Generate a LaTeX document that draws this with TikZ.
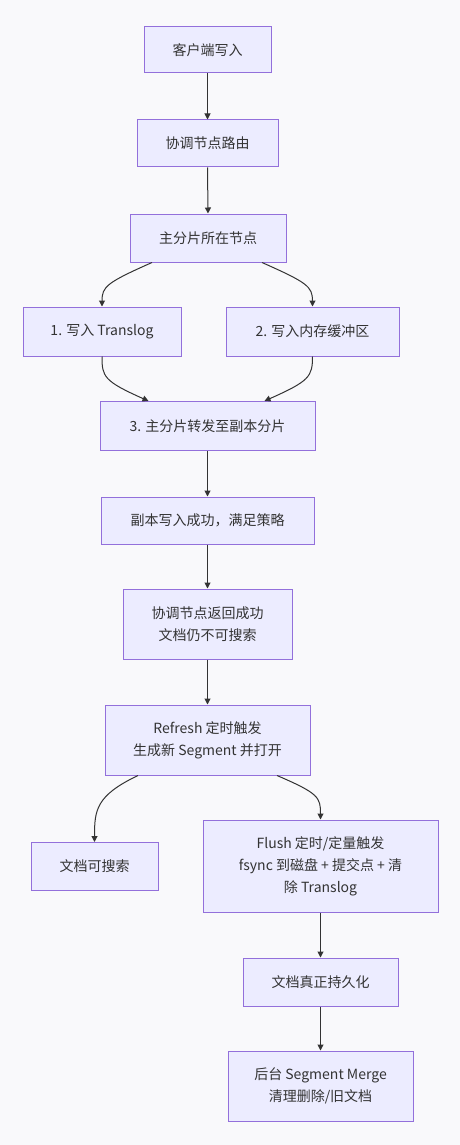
\documentclass[tikz,border=0pt]{standalone}
\usepackage{fontspec}
\setmainfont{Noto Sans CJK SC}
\usetikzlibrary{arrows.meta}
\definecolor{bgc}{HTML}{F9F9FB}
\definecolor{boxfill}{HTML}{ECECFF}
\definecolor{boxline}{HTML}{9370DB}
\definecolor{ink}{HTML}{333333}
\tikzset{
  box/.style={draw=boxline, fill=boxfill, line width=0.75pt, text=ink,
    align=center, inner sep=0pt, font=\fontsize{10.5pt}{16.5pt}\selectfont},
  sz/.style 2 args={minimum width=#1*0.75pt, minimum height=#2*0.75pt},
  arr/.style={draw=ink, line width=0.75pt, -{Triangle[length=4.5pt,width=4.5pt]}}
}
\begin{document}
\begin{tikzpicture}[x=0.75pt,y=-0.75pt]
  \fill[bgc] (0,0) rectangle (460,1145);
  \useasboundingbox (0,0) rectangle (460,1145);

  \node[box, sz={127}{46}] (n1) at (207.5,50) {客户端写入};
  \node[box, sz={141}{47}] (n2) at (207.5,143.5) {协调节点路由};
  \node[box, sz={156}{48}] (n3) at (208,238) {主分片所在节点};
  \node[box, sz={158}{49}] (n4) at (102,331.5) {1. 写入 Translog};
  \node[box, sz={173}{49}] (n5) at (312.5,331.5) {2. 写入内存缓冲区};
  \node[box, sz={215}{49}] (n6) at (207.5,426) {3. 主分片转发至副本分片};
  \node[box, sz={213}{47}] (n7) at (207.5,520.5) {副本写入成功，满足策略};
  \node[box, sz={169}{70}] (n8) at (207.5,624) {协调节点返回成功\\文档仍不可搜索};
  \node[box, sz={205}{70}] (n9) at (207.5,740) {Refresh 定时触发\\生成新 Segment 并打开};
  \node[box, sz={127}{48}] (n10) at (94.5,866.5) {文档可搜索};
  \node[box, sz={235}{92}] (n11) at (320.5,866) {Flush 定时/定量触发\\fsync 到磁盘 + 提交点 + 清\\除 Translog};
  \node[box, sz={155}{48}] (n12) at (320.5,982) {文档真正持久化};
  \node[box, sz={185}{70}] (n13) at (320.5,1086) {后台 Segment Merge\\清理删除/旧文档};

  % straight links
  \draw[arr] (n1.south) -- (n2.north);
  \draw[arr] (n2.south) -- (n3.north);
  \draw[arr] (n6.south) -- (n7.north);
  \draw[arr] (n7.south) -- (n8.north);
  \draw[arr] (n8.south) -- (n9.north);
  \draw[arr] (n11.south) -- (n12.north);
  \draw[arr] (n12.south) -- (n13.north);

  % fan-out and fan-in curves
  \draw[arr] ([xshift=-56*0.75pt]n3.south) .. controls +(-45,20) and +(0,-20) .. (n4.north);
  \draw[arr] ([xshift=54*0.75pt]n3.south) .. controls +(45,20) and +(0,-20) .. (n5.north);
  \draw[arr] (n4.south) .. controls +(0,20) and +(-45,-20) .. ([xshift=-59*0.75pt]n6.north);
  \draw[arr] (n5.south) .. controls +(0,20) and +(45,-20) .. ([xshift=57*0.75pt]n6.north);
  \draw[arr] ([xshift=-69.5*0.75pt]n9.south) .. controls +(-42,20) and +(0,-32) .. (n10.north);
  \draw[arr] ([xshift=69.5*0.75pt]n9.south) .. controls +(42,18) and +(0,-22) .. (n11.north);
\end{tikzpicture}
\end{document}
